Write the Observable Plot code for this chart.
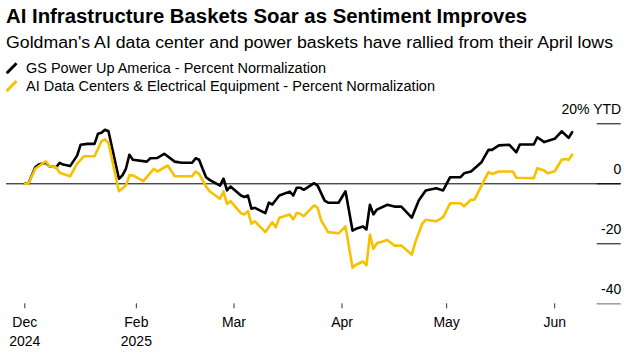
<!DOCTYPE html>
<html><head><meta charset="utf-8">
<script src="https://cdn.jsdelivr.net/npm/d3@7"></script>
<script src="https://cdn.jsdelivr.net/npm/@observablehq/plot@0.6"></script>
<style>
body{margin:0;background:#fff;}
#wrap{position:relative;width:633px;height:357px;overflow:hidden;font-family:"Liberation Sans",Arial,sans-serif;color:#000;background:#fff;}
.t{position:absolute;left:6px;white-space:nowrap;transform-origin:0 0;}
#chart{position:absolute;left:0;top:100px;}
</style></head><body>
<div id="wrap">
<div class="t" id="title" style="top:6.5px;font-size:19.5px;line-height:19.5px;font-weight:bold;"></div>
<div class="t" id="subtitle" style="top:35px;font-size:15.8px;line-height:15.8px;"></div>
<div class="t" id="leg1" style="left:26px;top:60.9px;font-size:14px;line-height:14px;"></div>
<div class="t" id="leg2" style="left:26px;top:78.9px;font-size:14px;line-height:14px;"></div>
<svg id="icons" style="position:absolute;left:0;top:0" width="24" height="100"></svg>
<div id="chart"></div>
</div>
<script>
const titleText = "AI Infrastructure Baskets Soar as Sentiment Improves";
const subtitleText = "Goldman's AI data center and power baskets have rallied from their April lows";
const seriesNames = ["GS Power Up America - Percent Normalization", "AI Data Centers & Electrical Equipment - Percent Normalization"];
const seriesColors = ["#000000", "#f7c100"];

const powerDates = ["2024-12-31","2025-01-01","2025-01-03","2025-01-04","2025-01-06","2025-01-07","2025-01-09","2025-01-10","2025-01-11","2025-01-13","2025-01-15","2025-01-16","2025-01-18","2025-01-20","2025-01-21","2025-01-22","2025-01-23","2025-01-24","2025-01-27","2025-01-28","2025-01-29","2025-01-30","2025-01-31",
"2025-02-04","2025-02-05","2025-02-07","2025-02-09","2025-02-12","2025-02-14","2025-02-17","2025-02-18","2025-02-19","2025-02-20","2025-02-21","2025-02-22","2025-02-25","2025-02-26","2025-02-27","2025-02-28",
"2025-03-03","2025-03-04","2025-03-05","2025-03-06","2025-03-07","2025-03-10","2025-03-11","2025-03-12","2025-03-14","2025-03-17","2025-03-18","2025-03-19","2025-03-20","2025-03-21","2025-03-24","2025-03-25","2025-03-27","2025-03-28","2025-03-31",
"2025-04-02","2025-04-04","2025-04-05","2025-04-07","2025-04-08","2025-04-09","2025-04-10","2025-04-11","2025-04-14","2025-04-16","2025-04-18","2025-04-21","2025-04-23","2025-04-25","2025-04-28","2025-04-30",
"2025-05-02","2025-05-05","2025-05-06","2025-05-08","2025-05-11","2025-05-13","2025-05-14","2025-05-16","2025-05-19","2025-05-21","2025-05-22","2025-05-26","2025-05-27","2025-05-29",
"2025-06-01","2025-06-03","2025-06-05","2025-06-06"];
const powerValues = [0,0,5.5,6.4,7.0,5.9,5.5,7.0,6.4,5.9,9.4,13.0,13.3,13.3,16.7,17.0,18.0,17.5,1.7,2.8,5.0,9.7,8.0,
7.4,8.5,8.6,10.0,7.4,7.0,7.0,8.5,8.0,5.0,2.2,1.3,-0.6,1.7,-2.2,-0.9,
-3.9,-4.4,-3.9,-8.3,-8.0,-9.8,-6.3,-6.9,-3.9,-2.6,-3.9,-1.3,-1.3,-2.0,0.2,-0.6,-5.6,-6.3,-6.3,
-2.5,-15.6,-15.0,-14.2,-15.2,-7.0,-10.2,-8.6,-7.0,-7.6,-7.6,-11.3,-5.6,-2.2,-1.5,-2.2,
2.2,2.2,3.5,4.1,7.2,11.3,11.3,12.8,13.0,10.5,13.1,13.1,15.5,13.9,
15.0,17.5,15.3,17.2];

const aiDates = ["2024-12-31","2025-01-01","2025-01-03","2025-01-06","2025-01-07","2025-01-09","2025-01-10","2025-01-13","2025-01-15","2025-01-17","2025-01-20","2025-01-22","2025-01-23","2025-01-24","2025-01-27","2025-01-29","2025-01-30","2025-01-31",
"2025-02-03","2025-02-06","2025-02-07","2025-02-10","2025-02-12","2025-02-17","2025-02-18","2025-02-19","2025-02-21","2025-02-22","2025-02-25","2025-02-26","2025-02-27","2025-02-28",
"2025-03-03","2025-03-04","2025-03-05","2025-03-06","2025-03-07","2025-03-10","2025-03-12","2025-03-13","2025-03-14","2025-03-17","2025-03-18","2025-03-19","2025-03-20","2025-03-21","2025-03-24","2025-03-25","2025-03-26","2025-03-28","2025-03-31",
"2025-04-02","2025-04-04","2025-04-05","2025-04-07","2025-04-08","2025-04-09","2025-04-10","2025-04-11","2025-04-14","2025-04-16","2025-04-18","2025-04-21","2025-04-22","2025-04-24","2025-04-25","2025-04-28","2025-04-30",
"2025-05-02","2025-05-05","2025-05-06","2025-05-08","2025-05-09","2025-05-11","2025-05-13","2025-05-14","2025-05-16","2025-05-20","2025-05-21","2025-05-26","2025-05-27","2025-05-29","2025-05-30",
"2025-06-01","2025-06-03","2025-06-04","2025-06-05","2025-06-06"];
const aiValues = [0,0,5.0,7.5,5.9,5.5,3.7,2.5,6.7,9.2,9.2,14.2,14.8,13.7,-2.5,-0.6,2.8,2.8,
0.9,5.0,4.1,6.1,2.5,2.5,4.1,3.3,-0.9,-2.5,-5.0,-2.5,-6.7,-5.8,
-9.8,-10.2,-9.1,-13.3,-12.5,-16.1,-12.8,-14.5,-11.3,-10.2,-11.9,-9.7,-10.0,-10.8,-7.2,-8.0,-12.2,-16.1,-16.5,
-14.2,-28.0,-27.0,-25.9,-27.2,-16.9,-21.7,-19.8,-18.7,-20.6,-20.6,-23.6,-19.5,-13.3,-12.0,-12.5,-11.1,
-6.5,-6.5,-7.5,-5.3,-5.3,-0.6,3.9,3.3,4.1,4.1,2.0,1.9,5.2,4.4,3.5,
4.2,8.0,8.3,8.0,9.7];

const xTickDates = ["2024-12-31","2025-02-01","2025-03-01","2025-04-01","2025-05-01","2025-06-01"];
const xTickMonths = ["Dec","Feb","Mar","Apr","May","Jun"];
const xTickYears = ["2024","2025","","","",""];
const yTicks = [20, 0, -20, -40];
const yTickLabels = ["20% YTD", "0", "-20", "-40"];

// header text
document.getElementById("title").textContent = titleText;
document.getElementById("subtitle").textContent = subtitleText;
document.getElementById("leg1").textContent = seriesNames[0];
document.getElementById("leg2").textContent = seriesNames[1];
const icons = d3.select("#icons");
[[73.3,63.3],[91,81]].forEach(([y1,y2],i)=>{
  icons.append("line").attr("x1",6.7).attr("y1",y1).attr("x2",16.5).attr("y2",y2)
    .attr("stroke",seriesColors[i]).attr("stroke-width",3);
});
function fit(id, target){
  const el = document.getElementById(id);
  const w = el.getBoundingClientRect().width;
  if (w > 0) el.style.transform = `scaleX(${target / w})`;
}
fit("title", 521); fit("subtitle", 607); fit("leg1", 300); fit("leg2", 409);

const parse = d3.utcParse("%Y-%m-%d");
const power = powerDates.map((d, i) => ({date: parse(d), value: powerValues[i]}));
const ai = aiDates.map((d, i) => ({date: parse(d), value: aiValues[i]}));
const tickD = xTickDates.map(parse);
const monthOf = new Map(tickD.map((d, i) => [+d, xTickMonths[i]]));
const yearOf = new Map(tickD.map((d, i) => [+d, xTickYears[i]]));
const yearTicks = tickD.filter((d, i) => xTickYears[i]);

const W = 633, ML = 24.3, MR = 78.8;
const tickLeft = 596.7, tickRight = 620.7, zeroLeft = 6;
const plot = Plot.plot({
  width: W, height: 257,
  marginTop: 23.3, marginBottom: 53.7, marginLeft: ML, marginRight: MR,
  x: {type: "utc", domain: [tickD[0], tickD[tickD.length - 1]]},
  y: {domain: [-40, 20], axis: null},
  style: {fontFamily: '"Liberation Sans", Arial, sans-serif', fontSize: "14px", color: "#000", background: "#fff", overflow: "visible"},
  marks: [
    Plot.ruleY([0], {stroke: "#000", strokeWidth: 1, insetLeft: zeroLeft - ML, insetRight: -(tickRight - (W - MR))}),
    Plot.ruleY(yTicks.slice(0, 3), {stroke: "#000", strokeWidth: 1, insetLeft: tickLeft - ML, insetRight: -(tickRight - (W - MR))}),
    Plot.ruleY(yTicks.slice(3), {stroke: "#a0a0a0", strokeWidth: 1.6, insetLeft: tickLeft - ML, insetRight: -(tickRight - (W - MR))}),
    Plot.text(yTicks, {y: d => d, text: (d, i) => yTickLabels[i], frameAnchor: "right", textAnchor: "end", dx: tickRight - (W - MR), dy: -13.8, fontSize: 14, fill: "#000"}),
    Plot.axisX(tickD, {anchor: "bottom", tickSize: 5, tickPadding: 8.5, tickFormat: d => monthOf.get(+d), fontSize: 14, stroke: "#333", fill: "#000"}),
    Plot.axisX(yearTicks, {anchor: "bottom", tickSize: 0, tickPadding: 31.8, tickFormat: d => yearOf.get(+d), fontSize: 14, fill: "#000"}),
    Plot.line(power, {x: "date", y: "value", stroke: seriesColors[0], strokeWidth: 2.6}),
    Plot.line(ai, {x: "date", y: "value", stroke: seriesColors[1], strokeWidth: 2.6})
  ]
});
document.getElementById("chart").appendChild(plot);
</script>
</body></html>
